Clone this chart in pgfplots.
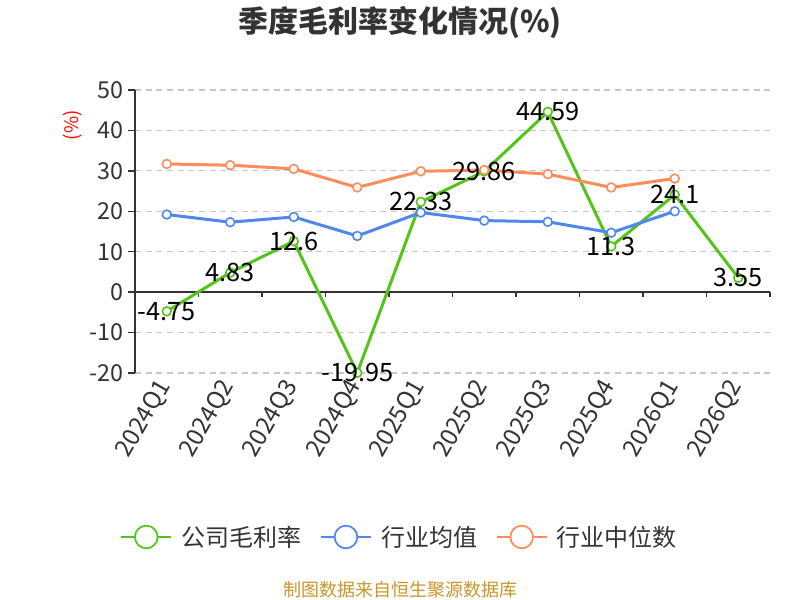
\documentclass[border=0pt]{standalone}
\usepackage{pgfplots}
\pgfplotsset{compat=1.18}
\usepackage{fontspec}
\setmainfont{Noto Sans CJK SC}
\definecolor{cgreen}{RGB}{82,196,26}
\definecolor{cblue}{RGB}{80,135,236}
\definecolor{corange}{RGB}{255,140,90}
\definecolor{ctext}{RGB}{51,51,51}
\definecolor{cfoot}{RGB}{200,150,40}
\pgfplotsset{
  legimg/.style={legend image code/.code={
    \draw[#1, line width=1.3pt] (0pt,0pt)--(37.5pt,0pt);
    \draw[#1, line width=1.3pt, fill=white] (18.75pt,0pt) circle (8.5pt);}},
}
\begin{document}
\begin{tikzpicture}
\path[use as bounding box] (0,0) rectangle (600pt,450pt);
\begin{axis}[
  at={(101.25pt,170.25pt)}, anchor=south west,
  scale only axis, width=476.25pt, height=212.25pt,
  xmin=-0.5, xmax=9.5, ymin=-20, ymax=50,
  axis y line*=left, axis x line*=bottom,
  x axis line style={draw=none},
  xtick={0,...,9},
  xticklabels={2024Q1,2024Q2,2024Q3,2024Q4,2025Q1,2025Q2,2025Q3,2025Q4,2026Q1,2026Q2},
  xtick style={draw=none},
  x tick label style={rotate=60, anchor=east, font=\fontsize{18}{20}\selectfont, text=ctext, inner sep=2pt},
  ytick={-20,-10,...,50},
  y tick label style={font=\fontsize{17.5}{20}\selectfont, text=ctext},
  ytick style={draw=ctext, line width=1pt},
  major tick length=5pt,
  tick align=outside,
  y axis line style={draw=ctext, line width=1pt},
  ymajorgrids, grid style={dash pattern=on 4.5pt off 3.5pt, gray!45, line width=0.9pt},
  /pgf/number format/assume math mode=true,
  clip=false,
  legend columns=3,
  legend style={at={(0.4173,-0.5795)}, anchor=center, draw=none, fill=none,
    font=\fontsize{18}{20}\selectfont, text=ctext,
    /tikz/every even column/.append style={column sep=12pt},
    /tikz/every odd column/.append style={column sep=5pt}},
]
\draw[ctext, line width=1pt] (axis cs:-0.5,0) -- (axis cs:9.5,0);
\foreach \t in {0.5,1.5,2.5,3.5,4.5,5.5,6.5,7.5,8.5,9.5} {
  \edef\tmp{\noexpand\draw[ctext, line width=1pt] (axis cs:\t,0) -- ++(0pt,-4pt);}\tmp
}
\addplot[cgreen, line width=2.25pt, mark=*, mark size=3.3pt,
  mark options={fill=white, draw=cgreen, line width=1.2pt},
  legimg=cgreen,
  point meta=explicit symbolic, nodes near coords,
  every node near coord/.append style={anchor=center, text=black, font=\fontsize{19}{21}\selectfont}]
  coordinates {(0,-4.75)[-4.75] (1,4.83)[4.83] (2,12.6)[12.6] (3,-19.95)[-19.95] (4,22.33)[22.33]
               (5,29.86)[29.86] (6,44.59)[44.59] (7,11.3)[11.3] (8,24.1)[24.1] (9,3.55)[3.55]};
\addlegendentry{公司毛利率}
\addplot[cblue, line width=2.25pt, mark=*, mark size=3.3pt,
  mark options={fill=white, draw=cblue, line width=1.2pt}, legimg=cblue]
  coordinates {(0,19.2) (1,17.3) (2,18.6) (3,13.9) (4,19.7) (5,17.7) (6,17.4) (7,14.7) (8,20.0)};
\addlegendentry{行业均值}
\addplot[corange, line width=2.25pt, mark=*, mark size=3.3pt,
  mark options={fill=white, draw=corange, line width=1.2pt}, legimg=corange]
  coordinates {(0,31.7) (1,31.4) (2,30.5) (3,25.9) (4,29.9) (5,30.2) (6,29.2) (7,25.9) (8,28.1)};
\addlegendentry{行业中位数}
\end{axis}
\node[font=\fontsize{22.5}{26}\selectfont\bfseries, text=ctext] at (300pt,433pt) {季度毛利率变化情况(\%)};
\node[rotate=90, text=red, font=\fontsize{14}{16}\selectfont] at (54.75pt,356pt) {(\%)};
\node[font=\fontsize{13.5}{16}\selectfont, text=cfoot] at (300pt,7.5pt) {制图数据来自恒生聚源数据库};
\end{tikzpicture}
\end{document}
